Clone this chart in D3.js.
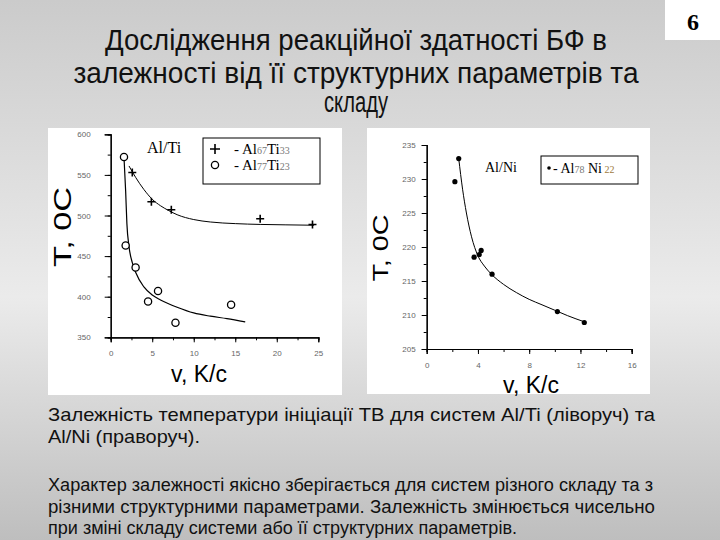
<!DOCTYPE html>
<html>
<head>
<meta charset="utf-8">
<script src="https://cdn.jsdelivr.net/npm/d3@7"></script>
<style>
  body { margin: 0; padding: 0; }
  svg { display: block; }
  .narrow { font-family: "Liberation Sans Narrow", "Arial Narrow", "Liberation Sans", Arial, sans-serif; }
  .tick text { font-family: Arial, "Liberation Sans", sans-serif; font-size: 8px; fill: #666; }
  .serif { font-family: "Liberation Serif", "Times New Roman", serif; }
</style>
</head>
<body>
<script>
// ---- data ----
// Al/Ti, Al67Ti33 (plus markers)
var tiPlusV = [2.6, 4.9, 7.3, 18.0, 24.3];
var tiPlusT = [553, 517, 507, 496, 489];
// Al/Ti, Al77Ti23 (open circles)
var tiCircV = [1.6, 1.8, 3.0, 4.5, 5.7, 7.8, 14.5];
var tiCircT = [572, 463, 436, 394, 407, 368, 390];
// fitted curves as drawn
var tiFitUpV = [2.2, 3, 4, 5, 6, 7, 8, 10, 12, 15, 18, 21, 24.5];
var tiFitUpT = [561, 547, 532, 520, 512, 506, 501, 495, 492, 490, 489, 488.5, 488];
var tiFitLoV = [1.6, 1.8, 1.95, 2.2, 2.6, 3, 4, 5, 6, 8, 10, 12, 14, 16.2];
var tiFitLoT = [572, 530, 490, 462, 442, 430, 412, 402, 396, 387, 380, 376, 373, 369];

// Al/Ni, Al78Ni22 (filled dots)
var niV = [2.2, 2.5, 3.7, 4.1, 4.25, 5.1, 10.2, 12.3];
var niT = [229.6, 233.0, 218.5, 218.9, 219.5, 216.0, 210.5, 208.9];
var niFitV = [2.5, 2.8, 3.1, 3.5, 4, 4.5, 5, 6, 7, 8, 9, 10, 11, 12.3];
var niFitT = [233, 228.5, 225, 221.5, 218.7, 217.2, 216.1, 214.5, 213.3, 212.3, 211.5, 210.7, 209.9, 209];

var tiXTicks = [0, 5, 10, 15, 20, 25];
var tiYTicks = [350, 400, 450, 500, 550, 600];
var niXTicks = [0, 4, 8, 12, 16];
var niYTicks = [205, 210, 215, 220, 225, 230, 235];

var titleLines = ["Дослідження реакційної здатності БФ в",
                  "залежності від її структурних параметрів та",
                  "складу"];
var captionLines = ["Залежність температури ініціації ТВ для систем Al/Ti (ліворуч) та",
                    "Al/Ni (праворуч)."];
var paraLines = ["Характер залежності якісно зберігається для систем різного складу та з",
                 "різними структурними параметрами. Залежність змінюється чисельно",
                 "при зміні складу системи або її структурних параметрів."];

var zip = function(a, b) { return a.map(function(v, i) { return {v: v, t: b[i]}; }); };

var svg = d3.select("body").append("svg")
    .attr("width", 720)
    .attr("height", 540);

// slide background
var grad = svg.append("defs").append("linearGradient")
    .attr("id", "bg").attr("x1", 0).attr("y1", 0).attr("x2", 0).attr("y2", 1);
grad.append("stop").attr("offset", "0%").attr("stop-color", "#cbcbcb");
grad.append("stop").attr("offset", "55%").attr("stop-color", "#ebebeb");
grad.append("stop").attr("offset", "100%").attr("stop-color", "#bebebe");
svg.append("rect").attr("width", 720).attr("height", 540).attr("fill", "url(#bg)");

// page number box
svg.append("rect").attr("x", 665).attr("y", 0).attr("width", 55).attr("height", 40).attr("fill", "#fff");
svg.append("text").attr("class", "serif")
    .attr("x", 693).attr("y", 30).attr("text-anchor", "middle")
    .style("font-size", "24px").style("font-weight", "bold").text("6");

// title
var titleY = [50, 83, 112];
var titleW = [502, 565, 64];
svg.selectAll(".title").data(titleLines).enter().append("text")
    .attr("class", "title narrow")
    .attr("x", 356).attr("y", function(d, i) { return titleY[i]; })
    .attr("text-anchor", "middle")
    .attr("textLength", function(d, i) { return titleW[i]; })
    .attr("lengthAdjust", "spacingAndGlyphs")
    .style("font-size", "29px").style("fill", "#111")
    .text(function(d) { return d; });

// white panels behind charts
svg.append("rect").attr("x", 48).attr("y", 128).attr("width", 294).attr("height", 267).attr("fill", "#fff");
svg.append("rect").attr("x", 367).attr("y", 128).attr("width", 283).attr("height", 266).attr("fill", "#fff");

// ---------- left chart: Al/Ti ----------
var xL = d3.scaleLinear().domain([0, 25]).range([110.7, 318.3]);
var yL = d3.scaleLinear().domain([350, 600]).range([337.3, 134.3]);

var gL = svg.append("g");
gL.append("g").attr("transform", "translate(0,337.3)")
    .call(d3.axisBottom(xL).tickValues(d3.range(0, 25.1, 2.5)).tickSize(3).tickFormat(""));
gL.append("g").attr("transform", "translate(0,337.3)")
    .call(d3.axisBottom(xL).tickValues(tiXTicks).tickSize(5).tickPadding(8));
gL.append("g").attr("transform", "translate(110.7,0)")
    .call(d3.axisLeft(yL).tickValues(d3.range(350, 601, 25)).tickSize(3).tickFormat(""));
gL.append("g").attr("transform", "translate(110.7,0)")
    .call(d3.axisLeft(yL).tickValues(tiYTicks).tickSize(6).tickPadding(14));
gL.selectAll(".domain").attr("stroke", "#000").attr("stroke-width", 1.2);

var lineL = d3.line().curve(d3.curveMonotoneX)
    .x(function(d) { return xL(d.v); }).y(function(d) { return yL(d.t); });
gL.append("path").datum(zip(tiFitUpV, tiFitUpT)).attr("d", lineL)
    .attr("fill", "none").attr("stroke", "#000").attr("stroke-width", 1);
gL.append("path").datum(zip(tiFitLoV, tiFitLoT)).attr("d", lineL)
    .attr("fill", "none").attr("stroke", "#000").attr("stroke-width", 1.2);

gL.selectAll(".plus").data(zip(tiPlusV, tiPlusT)).enter().append("path")
    .attr("class", "plus")
    .attr("transform", function(d) { return "translate(" + xL(d.v) + "," + yL(d.t) + ")"; })
    .attr("d", "M-4,0H4M0,-4V4").attr("stroke", "#000").attr("stroke-width", 1.6);
gL.selectAll(".circ").data(zip(tiCircV, tiCircT)).enter().append("circle")
    .attr("class", "circ")
    .attr("cx", function(d) { return xL(d.v); }).attr("cy", function(d) { return yL(d.t); })
    .attr("r", 3.6).attr("fill", "#fff").attr("stroke", "#000").attr("stroke-width", 1.3);

gL.append("text").attr("class", "serif").attr("x", 147).attr("y", 153)
    .style("font-size", "16px").text("Al/Ti");

// legend
gL.append("rect").attr("x", 203).attr("y", 138).attr("width", 117).attr("height", 46)
    .attr("fill", "#fff").attr("stroke", "#000").attr("stroke-width", 1);
gL.append("path").attr("d", "M210,149H220M215,144V154").attr("stroke", "#000").attr("stroke-width", 1.6);
gL.append("circle").attr("cx", 215).attr("cy", 165).attr("r", 3.6)
    .attr("fill", "none").attr("stroke", "#000").attr("stroke-width", 1.3);
var legL = [["Al", "67", "Ti", "33", 154], ["Al", "77", "Ti", "23", 170]];
legL.forEach(function(r) {
  var t = gL.append("text").attr("class", "serif").attr("x", 234).attr("y", r[4])
      .style("font-size", "15px");
  t.append("tspan").text("-   ");
  t.append("tspan").text(r[0]);
  t.append("tspan").style("font-size", "10px").style("fill", "#777").text(r[1]);
  t.append("tspan").text(r[2]);
  t.append("tspan").style("font-size", "10px").style("fill", "#777").text(r[3]);
});

gL.append("text").attr("transform", "translate(71,227) rotate(-90)")
    .attr("text-anchor", "middle").attr("textLength", 80).attr("lengthAdjust", "spacingAndGlyphs")
    .style("font-family", "Arial, 'Liberation Sans', sans-serif").style("font-size", "23px")
    .text("T, 0C");
gL.append("text").attr("x", 199).attr("y", 382).attr("text-anchor", "middle")
    .style("font-family", "Arial, 'Liberation Sans', sans-serif").style("font-size", "23px")
    .text("v, K/c");

// ---------- right chart: Al/Ni ----------
var xR = d3.scaleLinear().domain([0, 16]).range([426.7, 631.7]);
var yR = d3.scaleLinear().domain([205, 235]).range([349, 145]);

var gR = svg.append("g");
gR.append("g").attr("transform", "translate(0,349)")
    .call(d3.axisBottom(xR).tickValues(d3.range(0, 16.1, 2)).tickSize(3).tickFormat(""));
gR.append("g").attr("transform", "translate(0,349)")
    .call(d3.axisBottom(xR).tickValues(niXTicks).tickSize(5).tickPadding(8));
gR.append("g").attr("transform", "translate(426.7,0)")
    .call(d3.axisLeft(yR).tickValues(d3.range(205, 235.1, 2.5)).tickSize(3).tickFormat(""));
gR.append("g").attr("transform", "translate(426.7,0)")
    .call(d3.axisLeft(yR).tickValues(niYTicks).tickSize(5).tickPadding(6));
gR.selectAll(".domain").attr("stroke", "#000").attr("stroke-width", 1.2);

var lineR = d3.line().curve(d3.curveMonotoneX)
    .x(function(d) { return xR(d.v); }).y(function(d) { return yR(d.t); });
gR.append("path").datum(zip(niFitV, niFitT)).attr("d", lineR)
    .attr("fill", "none").attr("stroke", "#000").attr("stroke-width", 1);
gR.selectAll(".dot").data(zip(niV, niT)).enter().append("circle")
    .attr("class", "dot")
    .attr("cx", function(d) { return xR(d.v); }).attr("cy", function(d) { return yR(d.t); })
    .attr("r", 2.6).attr("fill", "#000");

gR.append("text").attr("class", "serif").attr("x", 485).attr("y", 172)
    .style("font-size", "14px").text("Al/Ni");
gR.append("rect").attr("x", 541).attr("y", 156).attr("width", 97).attr("height", 28)
    .attr("fill", "#fff").attr("stroke", "#000").attr("stroke-width", 1);
gR.append("circle").attr("cx", 549).attr("cy", 168).attr("r", 1.8).attr("fill", "#000");
var tR = gR.append("text").attr("class", "serif").attr("x", 553).attr("y", 173).style("font-size", "14px");
tR.append("tspan").text("- Al");
tR.append("tspan").style("font-size", "10px").style("fill", "#777").text("78");
tR.append("tspan").text(" Ni");
tR.append("tspan").style("font-size", "10px").style("fill", "#a07a40").text(" 22");

gR.append("text").attr("transform", "translate(388,248) rotate(-90)")
    .attr("text-anchor", "middle").attr("textLength", 67).attr("lengthAdjust", "spacingAndGlyphs")
    .style("font-family", "Arial, 'Liberation Sans', sans-serif").style("font-size", "22px")
    .text("T, 0C");
gR.append("text").attr("x", 531).attr("y", 393).attr("text-anchor", "middle")
    .style("font-family", "Arial, 'Liberation Sans', sans-serif").style("font-size", "23px")
    .text("v, K/c");

// ---------- text below ----------
var capY = [421, 443];
var capW = [607, 152];
svg.selectAll(".cap").data(captionLines).enter().append("text")
    .attr("class", "cap narrow")
    .attr("x", 48).attr("y", function(d, i) { return capY[i]; })
    .attr("textLength", function(d, i) { return capW[i]; })
    .attr("lengthAdjust", "spacingAndGlyphs")
    .style("font-size", "19px").style("fill", "#111")
    .text(function(d) { return d; });

var paraY = [491, 513, 534];
var paraW = [605, 607, 469];
svg.selectAll(".para").data(paraLines).enter().append("text")
    .attr("class", "para narrow")
    .attr("x", 48).attr("y", function(d, i) { return paraY[i]; })
    .attr("textLength", function(d, i) { return paraW[i]; })
    .attr("lengthAdjust", "spacingAndGlyphs")
    .style("font-size", "17.5px").style("fill", "#111")
    .text(function(d) { return d; });
</script>
</body>
</html>
